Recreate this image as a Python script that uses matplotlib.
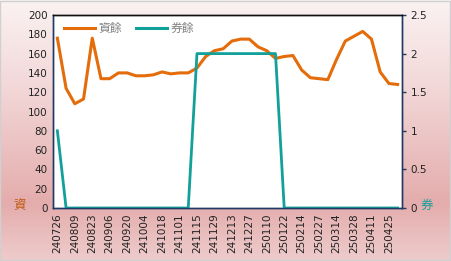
import matplotlib
matplotlib.use("Agg")
import matplotlib.pyplot as plt
import numpy as np
from matplotlib.colors import LinearSegmentedColormap
from matplotlib.lines import Line2D

plt.rcParams['font.family'] = ['Noto Sans CJK TC', 'DejaVu Sans']

dates = ["240726", "240802", "240809", "240816", "240823", "240830", "240906", "240913",
         "240920", "240927", "241004", "241011", "241018", "241025", "241101", "241108",
         "241115", "241122", "241129", "241206", "241213", "241220", "241227", "250103",
         "250110", "250117", "250122", "250207", "250214", "250221", "250227", "250307",
         "250314", "250321", "250328", "250403", "250411", "250418", "250425", "250502"]
margin_bal = [176, 124, 108, 113, 176, 134, 134, 140, 140, 137, 137, 138, 141, 139, 140, 140,
              145, 157, 163, 165, 173, 175, 175, 167, 163, 155, 157, 158, 143, 135, 134, 133,
              154, 173, 178, 183, 175, 141, 129, 128]
short_bal = [1] + [0] * 15 + [2] * 10 + [0] * 14

orange = "#E46C0A"
teal = "#12A09A"
navy = "#1F3864"

W, H = 451, 261
fig = plt.figure(figsize=(W / 100, H / 100), dpi=100)

# gradient background
bg = fig.add_axes([0, 0, 1, 1], zorder=-10)
cmap = LinearSegmentedColormap.from_list("bg", [
    (0.0, (251/255, 242/255, 242/255)),
    (0.35, (242/255, 214/255, 214/255)),
    (0.78, (228/255, 172/255, 172/255)),
    (1.0, (238/255, 204/255, 204/255))])
grad = np.linspace(0, 1, 256).reshape(-1, 1)
bg.imshow(grad, aspect="auto", cmap=cmap, extent=[0, 1, 0, 1], origin="upper")
bg.set_xlim(0, 1); bg.set_ylim(0, 1)
bg.axis("off")
bg.add_patch(plt.Rectangle((0.001, 0.002), 0.997, 0.995, fill=False, edgecolor="#D0D0D0", lw=1))

ax = fig.add_axes([53 / W, 1 - 208 / H, (402 - 53) / W, (208 - 15) / H])
ax.set_facecolor("white")
x = np.arange(len(dates))
ax.plot(x, margin_bal, color=orange, lw=2.2, solid_joinstyle="round", zorder=3)
ax.set_ylim(0, 200)
ax.set_xlim(-0.5, len(dates) - 0.5)
ax.set_yticks(np.arange(0, 201, 20))
ax.tick_params(axis="y", length=0, labelsize=7.5, pad=4, labelcolor="#222222")
ax.set_xticks(x[::2])
ax.set_xticklabels(dates[::2], rotation=90, fontsize=7.5, color="#222222",
                   family="DejaVu Sans")
ax.tick_params(axis="x", length=0, pad=4)
for lab in ax.get_yticklabels():
    lab.set_family("DejaVu Sans")

ax2 = ax.twinx()
ax2.plot(x, short_bal, color=teal, lw=2.0, zorder=2)
ax2.set_ylim(0, 2.5)
ax2.set_yticks([0, 0.5, 1, 1.5, 2, 2.5])
ax2.set_yticklabels(["0", "0.5", "1", "1.5", "2", "2.5"], family="DejaVu Sans")
ax2.tick_params(axis="y", length=3, width=1, color=navy, labelsize=7.5, pad=3,
                labelcolor="#222222", direction="out")
ax2.patch.set_visible(False)

for a in (ax, ax2):
    a.spines["left"].set_color(navy)
    a.spines["right"].set_color(navy)
    a.spines["bottom"].set_color(navy)
    a.spines["top"].set_color("#111111")
    for s in a.spines.values():
        s.set_linewidth(1.0)

handles = [Line2D([], [], color=orange, lw=2.2), Line2D([], [], color=teal, lw=2.2)]
leg = ax2.legend(handles, ["資餘", "券餘"], loc="upper left", ncol=2, frameon=False,
                 fontsize=8.5, handlelength=2.6, handletextpad=0.3, columnspacing=1.2,
                 bbox_to_anchor=(0.012, 1.0), borderaxespad=0.2)
for t in leg.get_texts():
    t.set_color("#808080")

fig.text(20 / W, 1 - 205 / H, "資", fontsize=9, color="#C05A10", ha="center", va="center")
fig.text(427 / W, 1 - 205 / H, "券", fontsize=9, color=teal, ha="center", va="center")

fig.savefig("out.png", dpi=100)
